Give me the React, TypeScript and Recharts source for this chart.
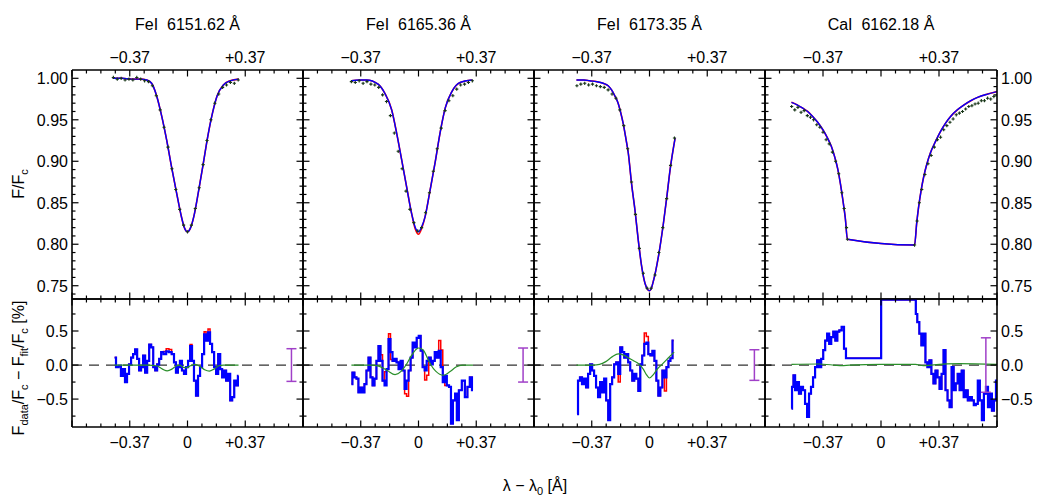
import React from "react";
import { ComposedChart, Line, Scatter, XAxis, YAxis, ReferenceLine, ErrorBar } from "recharts";

const FONT = '"Liberation Sans", Arial, Helvetica, sans-serif';
const M = 50;

// axis ticks and labels
const xTicks = [-0.74, -0.6475, -0.555, -0.4625, -0.37, -0.2775, -0.185, -0.0925, 0, 0.0925, 0.185, 0.2775, 0.37, 0.4625, 0.555, 0.6475, 0.74];
const xLabelsTop = [-0.37, 0.37];
const xLabelsBottom = [-0.37, 0, 0.37];
const fluxTicks = [0.74, 0.75, 0.76, 0.77, 0.78, 0.79, 0.8, 0.81, 0.82, 0.83, 0.84, 0.85, 0.86, 0.87, 0.88, 0.89, 0.9, 0.91, 0.92, 0.93, 0.94, 0.95, 0.96, 0.97, 0.98, 0.99, 1.0];
const fluxLabels = [1.0, 0.95, 0.9, 0.85, 0.8, 0.75];
const resTicks = [-0.75, -0.5, -0.25, 0, 0.25, 0.5, 0.75];
const resLabels = [0.5, 0, -0.5];

const titles = ["FeI  6151.62 Å", "FeI  6165.36 Å", "FeI  6173.35 Å", "CaI  6162.18 Å"];

// ---------- line profiles (fit) ----------
const fit6151: [number, number][] = [
  [-0.479, 1.0], [-0.42, 1.0], [-0.36, 0.999], [-0.3, 0.999], [-0.261, 0.998], [-0.23, 0.994], [-0.198, 0.979],
  [-0.166, 0.955], [-0.134, 0.926], [-0.102, 0.893], [-0.069, 0.861], [-0.04, 0.834], [-0.02, 0.82], [0.0, 0.815],
  [0.02, 0.82], [0.04, 0.833], [0.07, 0.863], [0.1, 0.896], [0.13, 0.93], [0.16, 0.958], [0.19, 0.979],
  [0.23, 0.992], [0.273, 0.997], [0.327, 0.999],
];
const fit6165: [number, number][] = [
  [-0.43, 0.997], [-0.38, 0.998], [-0.333, 0.998], [-0.259, 0.993], [-0.216, 0.982], [-0.172, 0.962], [-0.14, 0.934],
  [-0.108, 0.902], [-0.076, 0.869], [-0.044, 0.837], [-0.02, 0.82], [0.0, 0.815], [0.02, 0.821], [0.042, 0.833],
  [0.074, 0.865], [0.106, 0.898], [0.138, 0.934], [0.171, 0.964], [0.214, 0.984], [0.267, 0.995], [0.342, 0.998],
];
const fit6173: [number, number][] = [
  [-0.468, 0.998], [-0.42, 0.998], [-0.383, 0.997], [-0.34, 0.996], [-0.297, 0.994], [-0.265, 0.991], [-0.243, 0.986],
  [-0.22, 0.978], [-0.201, 0.97], [-0.185, 0.959], [-0.169, 0.946], [-0.15, 0.926], [-0.136, 0.91], [-0.115, 0.873],
  [-0.093, 0.841], [-0.072, 0.805], [-0.05, 0.773], [-0.029, 0.753], [-0.01, 0.745], [0.0, 0.744], [0.01, 0.746],
  [0.024, 0.755], [0.04, 0.768], [0.057, 0.785], [0.089, 0.825], [0.111, 0.857], [0.132, 0.89], [0.164, 0.928],
];
const fit6162: [number, number][] = [
  [-0.571, 0.971], [-0.535, 0.968], [-0.5, 0.964], [-0.468, 0.96], [-0.436, 0.954], [-0.404, 0.947], [-0.371, 0.938],
  [-0.344, 0.929], [-0.317, 0.918], [-0.295, 0.905], [-0.275, 0.89], [-0.259, 0.873], [-0.243, 0.853], [-0.228, 0.832],
  [-0.214, 0.806], [0.214, 0.799], [0.228, 0.826], [0.24, 0.845], [0.256, 0.865], [0.272, 0.881], [0.293, 0.897],
  [0.315, 0.91], [0.348, 0.924], [0.38, 0.936], [0.412, 0.946], [0.444, 0.954], [0.487, 0.962], [0.53, 0.968],
  [0.573, 0.973], [0.616, 0.977], [0.68, 0.981], [0.74, 0.984],
];
// where the red fit departs from the blue one
const redFit6165: [number, number][] = [[0.0, 0.812], [-0.02, 0.818], [0.02, 0.819]];

// ---------- observed spectra ----------
const obs6151: [number, number][] = [
  [-0.475, 1.001], [-0.45, 0.999], [-0.425, 1.0], [-0.4, 0.998], [-0.375, 0.999], [-0.35, 0.998], [-0.325, 1.001],
  [-0.3, 0.999], [-0.275, 0.997], [-0.25, 0.996], [-0.225, 0.991], [-0.2, 0.979], [-0.175, 0.962], [-0.15, 0.941],
  [-0.125, 0.917], [-0.1, 0.891], [-0.075, 0.866], [-0.05, 0.842], [-0.025, 0.823], [0.0, 0.815], [0.025, 0.823],
  [0.05, 0.843], [0.075, 0.868], [0.1, 0.896], [0.125, 0.925], [0.15, 0.95], [0.175, 0.97], [0.2, 0.981],
  [0.225, 0.989], [0.25, 0.992], [0.275, 0.995], [0.3, 0.994], [0.325, 0.998],
];
const obs6165: [number, number][] = [
  [-0.43, 0.996], [-0.405, 0.995], [-0.38, 0.997], [-0.355, 0.994], [-0.33, 0.996], [-0.305, 0.993], [-0.28, 0.992],
  [-0.255, 0.989], [-0.23, 0.98], [-0.205, 0.972], [-0.18, 0.955], [-0.155, 0.934], [-0.13, 0.912], [-0.105, 0.891],
  [-0.08, 0.864], [-0.055, 0.842], [-0.03, 0.826], [-0.005, 0.816], [0.02, 0.82], [0.045, 0.838], [0.07, 0.862],
  [0.095, 0.888], [0.12, 0.915], [0.145, 0.94], [0.17, 0.961], [0.195, 0.973], [0.22, 0.979], [0.245, 0.987],
  [0.27, 0.992], [0.295, 0.993], [0.32, 0.995], [0.345, 0.997],
];
const obs6173: [number, number][] = [
  [-0.465, 0.991], [-0.44, 0.993], [-0.415, 0.994], [-0.39, 0.992], [-0.365, 0.993], [-0.34, 0.991], [-0.315, 0.99],
  [-0.29, 0.989], [-0.265, 0.986], [-0.24, 0.981], [-0.215, 0.976], [-0.19, 0.962], [-0.165, 0.943], [-0.14, 0.915],
  [-0.115, 0.875], [-0.09, 0.836], [-0.065, 0.795], [-0.04, 0.765], [-0.015, 0.747], [0.01, 0.747], [0.035, 0.763],
  [0.06, 0.79], [0.085, 0.82], [0.11, 0.855], [0.135, 0.895], [0.16, 0.928],
];
const obs6162: [number, number][] = [
  [-0.57, 0.966], [-0.55, 0.962], [-0.53, 0.965], [-0.51, 0.959], [-0.49, 0.961], [-0.47, 0.955], [-0.45, 0.953],
  [-0.43, 0.95], [-0.41, 0.944], [-0.39, 0.941], [-0.37, 0.935], [-0.35, 0.926], [-0.33, 0.921], [-0.31, 0.911],
  [-0.29, 0.9], [-0.27, 0.885], [-0.25, 0.862], [-0.235, 0.843], [-0.22, 0.82], [-0.214, 0.806],
  [0.214, 0.799], [0.23, 0.828], [0.245, 0.85], [0.26, 0.866], [0.28, 0.884], [0.3, 0.897], [0.32, 0.907],
  [0.34, 0.917], [0.36, 0.926], [0.38, 0.929], [0.4, 0.938], [0.42, 0.943], [0.44, 0.947], [0.46, 0.951],
  [0.48, 0.956], [0.5, 0.958], [0.52, 0.96], [0.54, 0.963], [0.56, 0.966], [0.58, 0.967], [0.6, 0.969],
  [0.62, 0.97], [0.64, 0.973], [0.66, 0.973], [0.68, 0.976], [0.7, 0.975], [0.72, 0.978], [0.74, 0.979],
];

// ---------- residuals [%] ----------
const res6151: [number, number][] = [
  [-0.467, 0.11], [-0.449, -0.03], [-0.434, -0.01], [-0.419, -0.16], [-0.407, -0.06], [-0.394, -0.25], [-0.381, -0.13],
  [-0.368, 0.01], [-0.355, 0.11], [-0.342, 0.16], [-0.329, 0.23], [-0.316, 0.09], [-0.304, -0.08], [-0.291, -0.03],
  [-0.278, 0.14], [-0.265, -0.11], [-0.252, 0.06], [-0.239, 0.3], [-0.226, 0.26], [-0.213, -0.03], [-0.201, -0.08],
  [-0.188, 0.01], [-0.175, 0.09], [-0.162, 0.19], [-0.145, 0.16], [-0.128, 0.2], [-0.11, 0.19], [-0.093, 0.16],
  [-0.08, 0.04], [-0.068, -0.11], [-0.055, -0.03], [-0.042, 0.06], [-0.029, -0.08], [-0.016, -0.13], [-0.003, -0.03],
  [0.01, 0.06], [0.023, 0.28], [0.035, 0.06], [0.048, -0.23], [0.061, -0.45], [0.074, -0.16], [0.087, -0.03],
  [0.1, 0.16], [0.113, 0.45], [0.125, 0.36], [0.138, 0.48], [0.151, 0.31], [0.164, 0.19], [0.177, -0.03],
  [0.19, -0.13], [0.203, 0.16], [0.216, -0.06], [0.228, -0.18], [0.241, -0.08], [0.254, -0.23], [0.267, -0.13],
  [0.28, -0.52], [0.293, -0.47], [0.306, -0.23], [0.319, -0.3], [0.327, -0.16],
];
const redRes6151: [number, number][] = [[-0.145, 0.2], [-0.128, 0.24], [-0.11, 0.23], [0.023, 0.3], [0.113, 0.49], [0.138, 0.53]];
const res6165: [number, number][] = [
  [-0.43, -0.28], [-0.417, -0.11], [-0.404, -0.18], [-0.391, -0.2], [-0.379, -0.4], [-0.366, -0.33], [-0.353, -0.4],
  [-0.34, -0.28], [-0.327, -0.08], [-0.314, 0.11], [-0.301, -0.18], [-0.288, -0.3], [-0.276, -0.2], [-0.263, 0.06],
  [-0.25, 0.28], [-0.237, 0.06], [-0.224, -0.23], [-0.211, -0.3], [-0.198, -0.06], [-0.186, 0.38], [-0.173, 0.19],
  [-0.16, 0.06], [-0.147, 0.09], [-0.134, 0.04], [-0.121, -0.06], [-0.108, 0.06], [-0.095, -0.08], [-0.083, -0.35],
  [-0.07, -0.23], [-0.057, -0.08], [-0.044, 0.11], [-0.031, 0.33], [-0.018, 0.26], [-0.005, 0.4], [0.008, 0.43],
  [0.02, 0.21], [0.033, -0.03], [0.046, -0.08], [0.059, 0.06], [0.072, 0.11], [0.085, 0.01], [0.098, 0.06],
  [0.11, 0.19], [0.123, 0.11], [0.136, 0.21], [0.149, -0.03], [0.162, -0.25], [0.175, -0.16], [0.188, -0.3],
  [0.203, -0.32], [0.213, -0.86], [0.228, -0.52], [0.241, -0.42], [0.25, -0.81], [0.267, -0.37], [0.288, -0.23],
  [0.306, -0.47], [0.321, -0.32], [0.336, -0.18], [0.349, -0.37],
];
const redRes6165: [number, number][] = [
  [-0.237, 0.15], [-0.211, -0.1], [-0.186, 0.46], [-0.173, 0.08], [-0.083, -0.42], [-0.07, -0.46], [-0.031, 0.3],
  [0.046, -0.22], [0.059, -0.15], [0.136, 0.36], [0.149, 0.22], [0.175, -0.3],
];
const res6173: [number, number][] = [
  [-0.464, -0.72], [-0.452, -0.23], [-0.439, -0.18], [-0.426, -0.28], [-0.413, -0.2], [-0.4, -0.33], [-0.387, -0.13],
  [-0.374, 0.01], [-0.361, -0.08], [-0.349, -0.16], [-0.336, -0.33], [-0.323, -0.47], [-0.31, -0.25], [-0.297, -0.4],
  [-0.284, -0.2], [-0.271, -0.52], [-0.258, -0.81], [-0.246, -0.28], [-0.233, -0.18], [-0.22, 0.01], [-0.207, 0.04],
  [-0.194, -0.13], [-0.181, 0.26], [-0.168, 0.19], [-0.156, 0.11], [-0.143, 0.16], [-0.13, 0.04], [-0.117, -0.08],
  [-0.104, -0.23], [-0.091, -0.13], [-0.078, -0.2], [-0.065, -0.38], [-0.053, 0.01], [-0.04, 0.14], [-0.027, 0.31],
  [-0.014, 0.33], [-0.001, 0.16], [0.012, 0.14], [0.025, 0.21], [0.038, 0.06], [0.05, -0.23], [0.063, -0.45],
  [0.076, -0.33], [0.089, -0.08], [0.102, -0.18], [0.115, -0.03], [0.128, 0.06], [0.14, 0.1], [0.155, 0.36],
];
const redRes6173: [number, number][] = [[-0.284, -0.35], [-0.194, -0.25], [-0.027, 0.47], [-0.014, 0.42], [0.102, -0.38]];
const res6162: [number, number][] = [
  [-0.571, -0.64], [-0.564, -0.32], [-0.553, -0.15], [-0.543, -0.37], [-0.53, -0.25], [-0.517, -0.42], [-0.504, -0.32],
  [-0.491, -0.37], [-0.478, -0.57], [-0.465, -0.76], [-0.453, -0.42], [-0.44, -0.32], [-0.427, -0.18], [-0.414, -0.03],
  [-0.401, 0.07], [-0.388, -0.03], [-0.375, 0.09], [-0.362, 0.22], [-0.35, 0.36], [-0.337, 0.46], [-0.324, 0.31],
  [-0.311, 0.41], [-0.298, 0.49], [-0.285, 0.36], [-0.272, 0.49], [-0.26, 0.51], [-0.242, 0.56], [-0.23, 0.24],
  [-0.217, 0.1], [0.0, 0.1], [0.002, 0.96], [0.219, 0.96], [0.225, 0.75], [0.238, 0.63], [0.251, 0.46],
  [0.264, 0.29], [0.277, 0.46], [0.29, 0.04], [0.302, -0.03], [0.315, 0.07], [0.328, -0.13], [0.341, -0.27],
  [0.354, -0.08], [0.367, -0.18], [0.38, -0.35], [0.393, -0.13], [0.405, 0.22], [0.418, -0.37], [0.431, -0.52],
  [0.444, -0.62], [0.457, -0.03], [0.47, -0.37], [0.483, -0.27], [0.495, -0.13], [0.508, -0.37], [0.521, -0.08],
  [0.534, -0.47], [0.547, -0.37], [0.56, -0.52], [0.573, -0.47], [0.586, -0.52], [0.598, -0.59], [0.611, -0.57],
  [0.624, -0.23], [0.637, -0.52], [0.65, -0.81], [0.663, -0.42], [0.676, -0.32], [0.689, -0.62], [0.701, -0.42],
  [0.714, -0.67], [0.727, -0.52], [0.74, -0.23],
];
const redRes6162: [number, number][] = [];

// synthetic difference curves (green)
const diff6151: [number, number][] = [
  [-0.467, 0], [-0.25, 0], [-0.2, -0.01], [-0.16, -0.06], [-0.13, -0.085], [-0.1, -0.06], [-0.07, -0.01],
  [-0.05, 0.0], [-0.03, -0.03], [-0.01, -0.04], [0.02, -0.01], [0.05, 0.01], [0.08, -0.02], [0.11, -0.07],
  [0.14, -0.09], [0.17, -0.06], [0.2, -0.01], [0.23, 0], [0.327, 0],
];
const diff6165: [number, number][] = [
  [-0.43, 0], [-0.3, 0], [-0.25, -0.02], [-0.2, -0.08], [-0.15, -0.14], [-0.11, -0.09], [-0.08, 0], [-0.05, 0.12],
  [-0.02, 0.22], [0.0, 0.25], [0.03, 0.22], [0.06, 0.09], [0.08, 0], [0.11, -0.09], [0.16, -0.15], [0.2, -0.1],
  [0.24, -0.03], [0.28, 0], [0.349, 0],
];
const diff6173: [number, number][] = [
  [-0.468, 0], [-0.36, 0], [-0.32, 0.01], [-0.28, 0.05], [-0.24, 0.12], [-0.2, 0.165], [-0.17, 0.15], [-0.13, 0.1],
  [-0.1, 0.06], [-0.07, 0.02], [-0.04, -0.06], [-0.02, -0.14], [0.0, -0.19], [0.025, -0.14], [0.05, -0.06],
  [0.08, 0.01], [0.11, 0.08], [0.14, 0.15], [0.158, 0.19],
];
const diff6162: [number, number][] = [
  [-0.571, 0.01], [-0.4, 0.015], [-0.3, 0.0], [-0.25, -0.01], [-0.2, 0.0], [0.0, 0.01], [0.22, 0.01],
  [0.27, -0.01], [0.32, 0.0], [0.5, 0.02], [0.74, 0.01],
];

// typical error bars [position, half length]
const errBars: [number, number][] = [[0.666, 0.24], [0.67, 0.25], [0.672, 0.225], [0.669, 0.4]];

// ---------- layout ----------
const X_DOMAIN: [number, number] = [-0.74, 0.74];
const FLUX_DOMAIN: [number, number] = [0.734, 1.01];
const RES_DOMAIN: [number, number] = [-0.91, 0.97];
const panelLeft = [72, 303, 534, 765];
const panelWidth = [231, 231, 231, 232];
const TOP_Y = 70;
const TOP_H = 229;
const BOT_Y = 299;
const BOT_H = 128;

const toPts = (a: [number, number][]) => a.map(([x, y]) => ({ x, y }));
const withOverrides = (a: [number, number][], o: [number, number][]) =>
  a.map(([x, y]) => {
    const hit = o.find(([ox]) => Math.abs(ox - x) < 1e-6);
    return { x, y: hit ? hit[1] : y };
  });

const isMult = (v: number, step: number) => Math.abs(v / step - Math.round(v / step)) < 1e-6;
const inList = (v: number, list: number[]) => list.some((l) => Math.abs(l - v) < 1e-6);
const minus = (s: string) => s.replace("-", "\u2212");
const fmtX = (v: number) => (Math.abs(v) < 1e-9 ? "0" : (v < 0 ? "\u2212" : "+") + Math.abs(v).toFixed(2));

const textStyle = { fontFamily: FONT, fontSize: 16, fill: "#000" };

function xTick(side: "top" | "bottom", labels: number[]) {
  return (props: any) => {
    const { x, y, payload } = props;
    const v = payload.value as number;
    const len = isMult(v, 0.37) ? 6.5 : 3.5;
    const dir = side === "top" ? 1 : -1;
    return (
      <g>
        <line x1={x} x2={x} y1={y} y2={y + dir * len} stroke="#000" strokeWidth={1.2} />
        {inList(v, labels) && (
          <text x={x} y={side === "top" ? y - 7.3 : y + 21.3} textAnchor="middle" style={textStyle}>
            {fmtX(v)}
          </text>
        )}
      </g>
    );
  };
}

function yTick(side: "left" | "right", major: number, labels: number[], digits: number) {
  return (props: any) => {
    const { x, y, payload } = props;
    const v = payload.value as number;
    const len = isMult(v, major) ? 6.5 : 3.5;
    const dir = side === "left" ? 1 : -1;
    return (
      <g>
        <line x1={x} x2={x + dir * len} y1={y} y2={y} stroke="#000" strokeWidth={1.2} />
        {inList(v, labels) && (
          <text x={side === "left" ? x - 4 : x + 4} y={y + 5.8} textAnchor={side === "left" ? "end" : "start"} style={textStyle}>
            {minus((Math.abs(v) < 1e-9 ? 0 : v).toFixed(digits))}
          </text>
        )}
      </g>
    );
  };
}

const Cross = (p: any) => (
  <path d={`M${p.cx - 1.6},${p.cy}h3.2M${p.cx},${p.cy - 1.6}v3.2`} stroke="#173517" strokeWidth={1.1} />
);

type PanelProps = {
  col: number;
  top: number;
  height: number;
  yDomain: [number, number];
  yTicks: number[];
  yMajor: number;
  yLabels: number[];
  yDigits: number;
  xLabelsT: number[];
  xLabelsB: number[];
  series: React.ReactElement[];
};

function Panel({ col, top, height, yDomain, yTicks, yMajor, yLabels, yDigits, xLabelsT, xLabelsB, series }: PanelProps) {
  const left = panelLeft[col];
  const width = panelWidth[col];
  const axisLine = { stroke: "#000", strokeWidth: 1.6 };
  // axes are 1px thick boxes, so the margin is one pixel smaller
  const m = M - 1;
  return (
    <div style={{ position: "absolute", left: left - M, top: top - M }}>
      <ComposedChart width={width + 2 * M} height={height + 2 * M} margin={{ top: m, right: m, bottom: m, left: m }}>
        <XAxis xAxisId="b" dataKey="x" type="number" orientation="bottom" domain={X_DOMAIN} allowDataOverflow
          ticks={xTicks} interval={0} height={1} tickSize={0} tickMargin={0} tickLine={false} axisLine={axisLine}
          tick={xTick("bottom", xLabelsB)} />
        <XAxis xAxisId="t" dataKey="x" type="number" orientation="top" domain={X_DOMAIN} allowDataOverflow
          ticks={xTicks} interval={0} height={1} tickSize={0} tickMargin={0} tickLine={false} axisLine={axisLine}
          tick={xTick("top", xLabelsT)} />
        <YAxis yAxisId="l" dataKey="y" type="number" orientation="left" domain={yDomain} allowDataOverflow
          ticks={yTicks} interval={0} width={1} tickSize={0} tickMargin={0} tickLine={false} axisLine={axisLine}
          tick={yTick("left", yMajor, col === 0 ? yLabels : [], yDigits)} />
        <YAxis yAxisId="r" dataKey="y" type="number" orientation="right" domain={yDomain} allowDataOverflow
          ticks={yTicks} interval={0} width={1} tickSize={0} tickMargin={0} tickLine={false} axisLine={axisLine}
          tick={yTick("right", yMajor, col === 3 ? yLabels : [], yDigits)} />
        {series}
      </ComposedChart>
    </div>
  );
}

const fits = [fit6151, fit6165, fit6173, fit6162];
const redFits = [[], redFit6165, [], []] as [number, number][][];
const observed = [obs6151, obs6165, obs6173, obs6162];
const residuals = [res6151, res6165, res6173, res6162];
const redResiduals = [redRes6151, redRes6165, redRes6173, redRes6162];
const diffs = [diff6151, diff6165, diff6173, diff6162];

function topSeries(i: number) {
  const ax = { xAxisId: "b", yAxisId: "l" };
  return [
    <Scatter key="o" {...ax} data={toPts(observed[i])} dataKey="y" shape={Cross} isAnimationActive={false} />,
    <Line key="r" {...ax} data={withOverrides(fits[i], redFits[i])} dataKey="y" type="monotone" stroke="#ff0000"
      strokeWidth={1.6} dot={false} isAnimationActive={false} />,
    <Line key="b" {...ax} data={toPts(fits[i])} dataKey="y" type="monotone" stroke="#0000ff"
      strokeWidth={1.4} dot={false} isAnimationActive={false} />,
  ];
}

function bottomSeries(i: number) {
  const ax = { xAxisId: "b", yAxisId: "l" };
  const [ex, eh] = errBars[i];
  return [
    <ReferenceLine key="z" {...ax} y={0} stroke="#333" strokeWidth={1.3} strokeDasharray="10 7" />,
    <Line key="r" {...ax} data={withOverrides(residuals[i], redResiduals[i])} dataKey="y" type="step" stroke="#ff0000"
      strokeWidth={1.5} dot={false} isAnimationActive={false} />,
    <Line key="b" {...ax} data={toPts(residuals[i])} dataKey="y" type="step" stroke="#0000ff"
      strokeWidth={2.2} dot={false} isAnimationActive={false} />,
    <Line key="g" {...ax} data={toPts(diffs[i])} dataKey="y" type="monotone" stroke="#2a8f2a"
      strokeWidth={1.2} dot={false} isAnimationActive={false} />,
    <Scatter key="e" {...ax} data={[{ x: ex, y: 0, err: eh }]} dataKey="y" shape={() => <g />} isAnimationActive={false}>
      <ErrorBar dataKey="err" direction="y" width={5} stroke="#a040c8" strokeWidth={1.5} isAnimationActive={false} />
    </Scatter>,
  ];
}

export default function App() {
  return (
    <div style={{ position: "absolute", left: 0, top: 0, width: 1038, height: 501, overflow: "hidden", background: "#fff" }}>
      {[0, 1, 2, 3].map((i) => (
        <Panel key={`t${i}`} col={i} top={TOP_Y} height={TOP_H} yDomain={FLUX_DOMAIN} yTicks={fluxTicks} yMajor={0.05}
          yLabels={fluxLabels} yDigits={2} xLabelsT={xLabelsTop} xLabelsB={[]} series={topSeries(i)} />
      ))}
      {[0, 1, 2, 3].map((i) => (
        <Panel key={`b${i}`} col={i} top={BOT_Y} height={BOT_H} yDomain={RES_DOMAIN} yTicks={resTicks} yMajor={0.5}
          yLabels={resLabels} yDigits={1} xLabelsT={[]} xLabelsB={xLabelsBottom} series={bottomSeries(i)} />
      ))}
      <svg width={1038} height={501} style={{ position: "absolute", left: 0, top: 0, pointerEvents: "none" }}>
        <g style={textStyle}>
          {titles.map((t, i) => (
            <text key={t} x={panelLeft[i] + panelWidth[i] / 2} y={30} textAnchor="middle" style={{ whiteSpace: "pre" }}>
              {t}
            </text>
          ))}
          <text transform="translate(24,184) rotate(-90)" textAnchor="middle">
            F/F<tspan fontSize={11} dy={4}>c</tspan>
          </text>
          <text transform="translate(24,368) rotate(-90)" textAnchor="middle">
            F<tspan fontSize={11} dy={4}>data</tspan>
            <tspan dy={-4}>/F</tspan>
            <tspan fontSize={11} dy={4}>c</tspan>
            <tspan dy={-4}>{" \u2212 F"}</tspan>
            <tspan fontSize={11} dy={4}>fit</tspan>
            <tspan dy={-4}>/F</tspan>
            <tspan fontSize={11} dy={4}>c</tspan>
            <tspan dy={-4}> [%]</tspan>
          </text>
          <text x={535} y={491} textAnchor="middle">
            {"\u03bb \u2212 \u03bb"}
            <tspan fontSize={11} dy={4}>0</tspan>
            <tspan dy={-4}> [Å]</tspan>
          </text>
        </g>
      </svg>
    </div>
  );
}
